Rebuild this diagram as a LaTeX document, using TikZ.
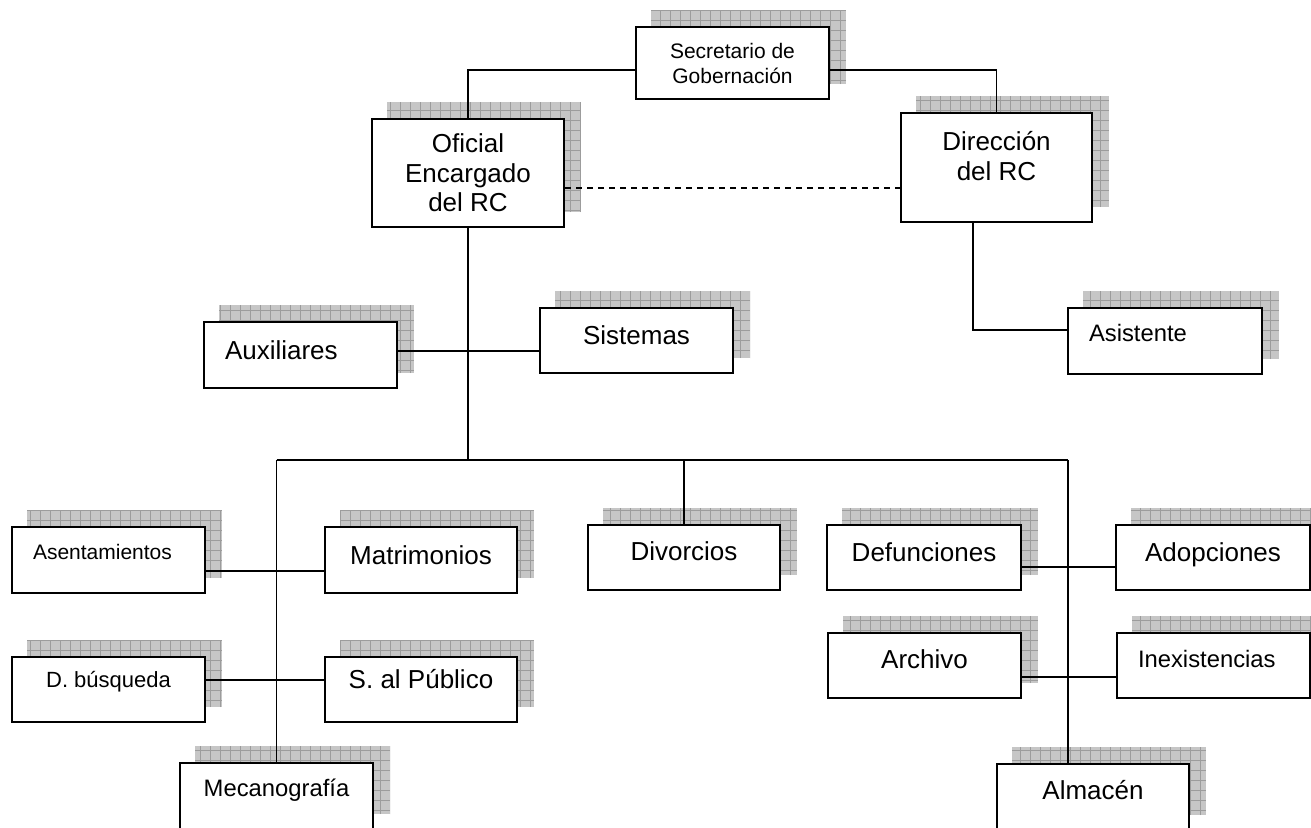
\documentclass[tikz,border=0pt]{standalone}
\usepackage{fontspec}
\setmainfont{Liberation Sans}
\usetikzlibrary{calc}
\pgfdeclarelayer{shadow}
\pgfsetlayers{shadow,main}
\definecolor{shfill}{HTML}{C6C6C6}
\definecolor{shline}{HTML}{9C9C9C}
% zero-width strut that fixes the text box so the cap line sits #1 above the box centre
\newcommand\lift[1]{\rule[\dimexpr-0.284em-#1-#1\relax]{0pt}{\dimexpr1.284em+#1+#1\relax}}
% hatched drop shadow behind a box, offset right and up
\newcommand\gridshadow[1]{%
  \begin{pgfonlayer}{shadow}
    \begin{scope}
      \clip ($(#1.south west)+(16,-16)$) rectangle ($(#1.north east)+(16,-16)$);
      \fill[shfill] ($(#1.south west)+(16,-16)$) rectangle ($(#1.north east)+(16,-16)$);
      \draw[shline, line width=0.4pt, step=5pt] ($(#1.south west)+(16,-16)$) grid ($(#1.north east)+(16,-16)$);
    \end{scope}
  \end{pgfonlayer}}
\begin{document}
\begin{tikzpicture}[x=0.5pt,y=-0.5pt,
  box/.style 2 args={draw, fill=white, line width=1pt, minimum width=#1*0.5pt,
    minimum height=#2*0.5pt, inner ysep=0pt, inner xsep=2pt},
  fbig/.style={font=\fontsize{13}{14.75}\selectfont},
  fmid/.style={font=\fontsize{11.9}{14}\selectfont},
  fsma/.style={font=\fontsize{10.5}{12.5}\selectfont},
  lft/.style={align=left, inner xsep=10.5pt, text width=#1},
  conn/.style={line width=0.85pt},
]
\useasboundingbox (0,0) rectangle (1311,827);

% boxes
\node[box={193}{72}, fsma, align=center] (sec) at (732.5,63) {Secretario de\\Gobernación};
\node[box={192}{108}, fbig, align=center] (ofi) at (468,173) {Oficial\\Encargado\\del RC};
\node[box={191}{109}, fbig, align=center] (dir) at (996.5,167.5) {Dirección\\del RC\rule[-11.5pt]{0pt}{11.5pt}};
\node[box={193}{66}, fbig, lft=75.5pt] (aux) at (300.5,355) {Auxiliares\lift{2.25pt}};
\node[box={193}{65}, fbig] (sis) at (636.5,340.5) {Sistemas\lift{2.5pt}};
\node[box={194}{66}, fmid, lft=76pt] (asis) at (1165,341) {Asistente\lift{4pt}};
\node[box={193}{66}, fsma, lft=75.5pt] (ase) at (108.5,560) {Asentamientos\lift{4.25pt}};
\node[box={192}{66}, fbig] (mat) at (421,560) {Matrimonios\lift{2.25pt}};
\node[box={192}{65}, fbig] (div) at (684,557.5) {Divorcios\lift{3pt}};
\node[box={194}{65}, fbig] (def) at (924,557.5) {Defunciones\lift{2.5pt}};
\node[box={194}{65}, fbig] (ado) at (1213,557.5) {Adopciones\lift{2.5pt}};
\node[box={193}{65}, font=\fontsize{11}{13}\selectfont] (dbus) at (108.5,689.5) {D. búsqueda\lift{5pt}};
\node[box={192}{65}, fbig] (sp) at (421,689.5) {S. al Público\lift{5pt}};
\node[box={193}{65}, fbig] (arch) at (924.5,665.5) {Archivo\lift{3pt}};
\node[box={193}{65}, fmid, lft=75.5pt] (inex) at (1213.5,665.5) {Inexistencias\lift{3.5pt}};
\node[box={193}{66}, fmid] (mec) at (276.5,796) {Mecanografía\lift{4pt}};
\node[box={192}{66}, fbig] (alm) at (1093,797) {Almacén\lift{3.5pt}};

% shadows
\foreach \n in {sec,ofi,dir,aux,sis,asis,ase,mat,div,def,ado,dbus,sp,arch,inex,mec,alm}{\gridshadow{\n}}

% guide lines for the connectors
\coordinate (hTop) at (0,70);
\coordinate (hDash) at (0,188);
\coordinate (hAsis) at (0,330);
\coordinate (hSub) at (0,351);
\coordinate (hBar) at (0,460);
\coordinate (hRowAL) at (0,571);
\coordinate (hRowBL) at (0,680);
\coordinate (hRowAR) at (0,567);
\coordinate (hRowBR) at (0,677);
\coordinate (vAsis) at (973,0);
\coordinate (vRight) at (1068,0);

% connectors
\draw[conn] (sec.west |- hTop) -| (ofi.north);
\draw[conn] (sec.east |- hTop) -| (dir.north);
\draw[conn, dash pattern=on 3pt off 2.5pt] (ofi.east |- hDash) -- (dir.west |- hDash);
\draw[conn] (dir.south -| vAsis) |- (asis.west |- hAsis);
\draw[conn] (ofi.south) -- (ofi.south |- hBar);
\draw[conn] (aux.east |- hSub) -- (sis.west |- hSub);
\draw[conn] (mec.north |- hBar) -- (vRight |- hBar);
\draw[conn] (mec.north |- hBar) -- (mec.north);
\draw[conn] (div.north |- hBar) -- (div.north);
\draw[conn] (vRight |- hBar) -- (alm.north -| vRight);
\draw[conn] (ase.east |- hRowAL) -- (mat.west |- hRowAL);
\draw[conn] (dbus.east |- hRowBL) -- (sp.west |- hRowBL);
\draw[conn] (def.east |- hRowAR) -- (ado.west |- hRowAR);
\draw[conn] (arch.east |- hRowBR) -- (inex.west |- hRowBR);
\end{tikzpicture}
\end{document}
